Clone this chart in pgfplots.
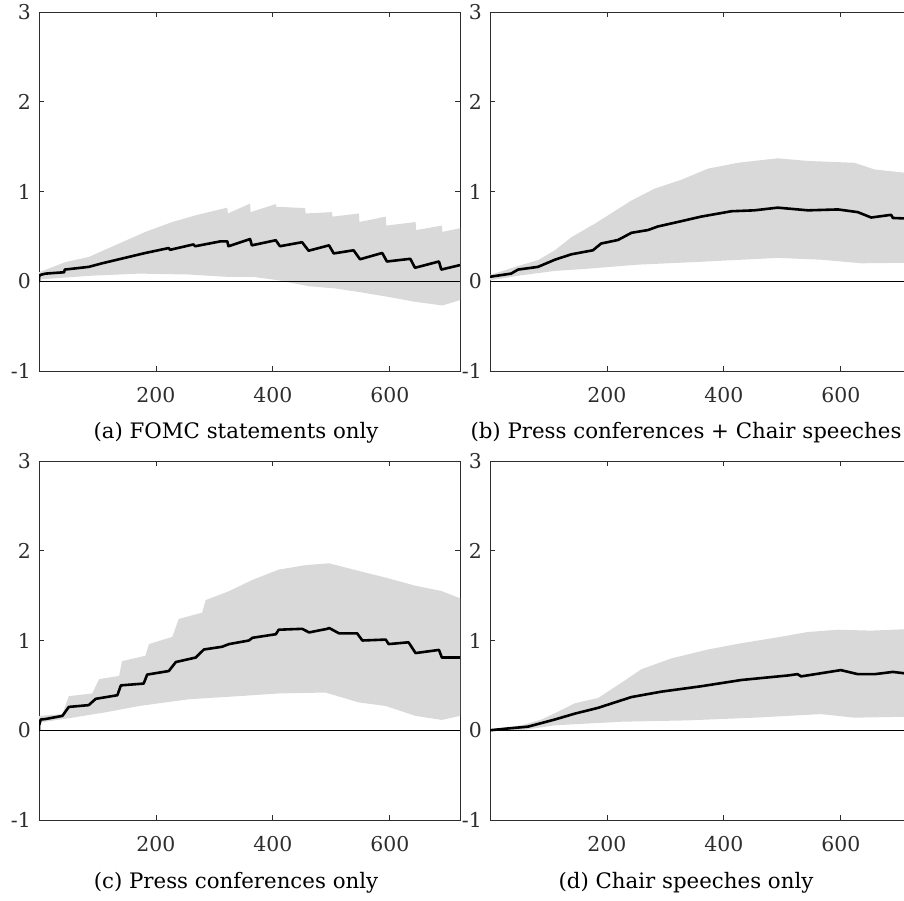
\documentclass[border=0pt]{standalone}
\usepackage{pgfplots}
\pgfplotsset{compat=1.18}
\usepgfplotslibrary{fillbetween}
\usepackage{fontspec}
\setmainfont{DejaVu Serif}
\definecolor{bandgray}{RGB}{217,217,217}
\definecolor{axgray}{RGB}{45,45,45}
\newcommand\tickfont{\fontsize{20.5}{22}\selectfont}
\newcommand\capfont{\fontsize{21.4}{24}\selectfont}
\pgfplotsset{panel/.style={
  scale only axis, width=421bp, height=359bp,
  xmin=0, xmax=720, ymin=-1, ymax=3,
  xtick={200,400,600}, xticklabels={200,400,600},
  ytick={-1,0,1,2,3}, yticklabels={-1,0,1,2,3},
  tick align=inside, major tick length=5bp,
  axis line style={draw=axgray, line width=0.8bp},
  every tick/.style={draw=axgray, line width=0.8bp},
  ticklabel style={text=axgray, font=\tickfont},
  xticklabel style={inner sep=0pt, anchor=north, yshift=-16bp},
  yticklabel style={inner sep=0pt, anchor=east, xshift=-8bp},
  anchor=south west,
}, mline/.style={black, line width=2.6bp, line join=round}}
\begin{document}
\begin{tikzpicture}
% (a)
\begin{axis}[panel, at={(39bp,530bp)}]
\addplot[name path=U, draw=none] coordinates {(0,0.10) (46,0.215) (85,0.27) (137,0.42) (182,0.55) (228,0.66) (268,0.735) (322,0.82) (323,0.755) (361,0.865) (362,0.77) (405,0.86) (406,0.83) (455,0.815) (456,0.755) (501,0.77) (502,0.72) (547,0.755) (548,0.66) (593,0.72) (594,0.62) (644,0.66) (645,0.57) (689,0.62) (690,0.55) (720,0.59)};
\addplot[name path=L, draw=none] coordinates {(0,0.02) (85,0.06) (171,0.085) (256,0.075) (319,0.05) (365,0.05) (410,0.01) (462,-0.056) (507,-0.08) (547,-0.12) (598,-0.175) (644,-0.23) (690,-0.27) (720,-0.21)};
\addplot[bandgray, draw=none] fill between[of=U and L];
\addplot[black, line width=0.8bp] coordinates {(0,0) (720,0)};
\addplot[mline] coordinates {(0,0) (0,0.05) (2,0.07) (11,0.085) (43,0.10) (44,0.13) (85,0.16) (108,0.20) (137,0.245) (182,0.315) (222,0.37) (224,0.35) (264,0.41) (267,0.39) (311,0.445) (322,0.445) (324,0.39) (361,0.47) (364,0.40) (405,0.457) (412,0.39) (450,0.435) (461,0.34) (496,0.40) (504,0.31) (538,0.345) (549,0.245) (587,0.315) (595,0.22) (635,0.25) (643,0.15) (684,0.22) (688,0.13) (720,0.18)};
\end{axis}
% (b)
\begin{axis}[panel, at={(490bp,530bp)}]
\addplot[name path=U, draw=none] coordinates {(0,0.07) (48,0.17) (82,0.235) (111,0.345) (139,0.49) (179,0.64) (202,0.735) (242,0.90) (281,1.03) (327,1.13) (373,1.255) (424,1.32) (492,1.37) (544,1.34) (623,1.32) (658,1.245) (708,1.21) (720,1.20)};
\addplot[name path=L, draw=none] coordinates {(0,0.01) (54,0.067) (111,0.115) (168,0.14) (253,0.185) (339,0.21) (492,0.26) (566,0.24) (635,0.20) (708,0.205) (720,0.20)};
\addplot[bandgray, draw=none] fill between[of=U and L];
\addplot[black, line width=0.8bp] coordinates {(0,0) (720,0)};
\addplot[mline] coordinates {(0,0.05) (36,0.085) (48,0.13) (82,0.16) (111,0.24) (139,0.30) (176,0.345) (190,0.42) (219,0.46) (242,0.54) (270,0.57) (287,0.61) (321,0.66) (361,0.72) (413,0.78) (452,0.79) (492,0.82) (544,0.79) (595,0.80) (629,0.77) (652,0.71) (686,0.74) (689,0.705) (708,0.70) (720,0.70)};
\end{axis}
% (c)
\begin{axis}[panel, at={(39bp,81bp)}]
\addplot[name path=U, draw=none] coordinates {(0,0.16) (40,0.18) (51,0.38) (91,0.41) (103,0.57) (137,0.605) (142,0.77) (182,0.83) (188,0.96) (228,1.04) (239,1.24) (279,1.31) (285,1.45) (325,1.55) (365,1.675) (410,1.79) (456,1.84) (496,1.86) (547,1.775) (593,1.70) (644,1.61) (689,1.55) (720,1.47)};
\addplot[name path=L, draw=none] coordinates {(0,0.085) (57,0.14) (114,0.20) (171,0.27) (256,0.345) (342,0.38) (410,0.41) (490,0.42) (547,0.31) (593,0.27) (644,0.16) (689,0.115) (720,0.16)};
\addplot[bandgray, draw=none] fill between[of=U and L];
\addplot[black, line width=0.8bp] coordinates {(0,0) (720,0)};
\addplot[mline] coordinates {(0,0) (0,0.05) (3,0.12) (11,0.125) (40,0.16) (51,0.26) (85,0.28) (97,0.35) (134,0.39) (140,0.50) (179,0.52) (185,0.62) (222,0.66) (234,0.76) (268,0.81) (282,0.90) (313,0.93) (325,0.96) (359,1.00) (365,1.03) (405,1.07) (410,1.12) (450,1.13) (462,1.09) (493,1.13) (496,1.14) (513,1.08) (544,1.08) (553,1.00) (593,1.01) (598,0.96) (632,0.98) (644,0.86) (684,0.895) (689,0.81) (720,0.81)};
\end{axis}
% (d)
\begin{axis}[panel, at={(490bp,81bp)}]
\addplot[name path=U, draw=none] coordinates {(0,0.01) (54,0.055) (88,0.12) (111,0.19) (145,0.30) (185,0.36) (225,0.53) (259,0.68) (310,0.80) (373,0.90) (430,0.97) (487,1.03) (544,1.095) (595,1.12) (652,1.11) (708,1.125) (720,1.12)};
\addplot[name path=L, draw=none] coordinates {(0,0) (54,0) (111,0.055) (225,0.095) (338,0.11) (452,0.14) (566,0.18) (623,0.14) (708,0.15) (720,0.15)};
\addplot[bandgray, draw=none] fill between[of=U and L];
\addplot[black, line width=0.8bp] coordinates {(0,0) (720,0)};
\addplot[mline] coordinates {(0,0) (31,0.02) (65,0.04) (111,0.12) (145,0.185) (185,0.25) (242,0.37) (293,0.43) (361,0.49) (430,0.56) (509,0.61) (526,0.625) (532,0.60) (600,0.67) (629,0.625) (658,0.625) (689,0.65) (708,0.635) (720,0.63)};
\end{axis}
\node[font=\capfont, anchor=center] at (236bp,468bp) {(a) FOMC statements only};
\node[font=\capfont, anchor=center] at (686bp,468bp) {(b) Press conferences + Chair speeches};
\node[font=\capfont, anchor=center] at (236bp,18bp) {(c) Press conferences only};
\node[font=\capfont, anchor=center] at (686bp,18bp) {(d) Chair speeches only};
\pgfresetboundingbox
\path[use as bounding box] (0,0) rectangle (904bp,901bp);
\end{tikzpicture}
\end{document}
